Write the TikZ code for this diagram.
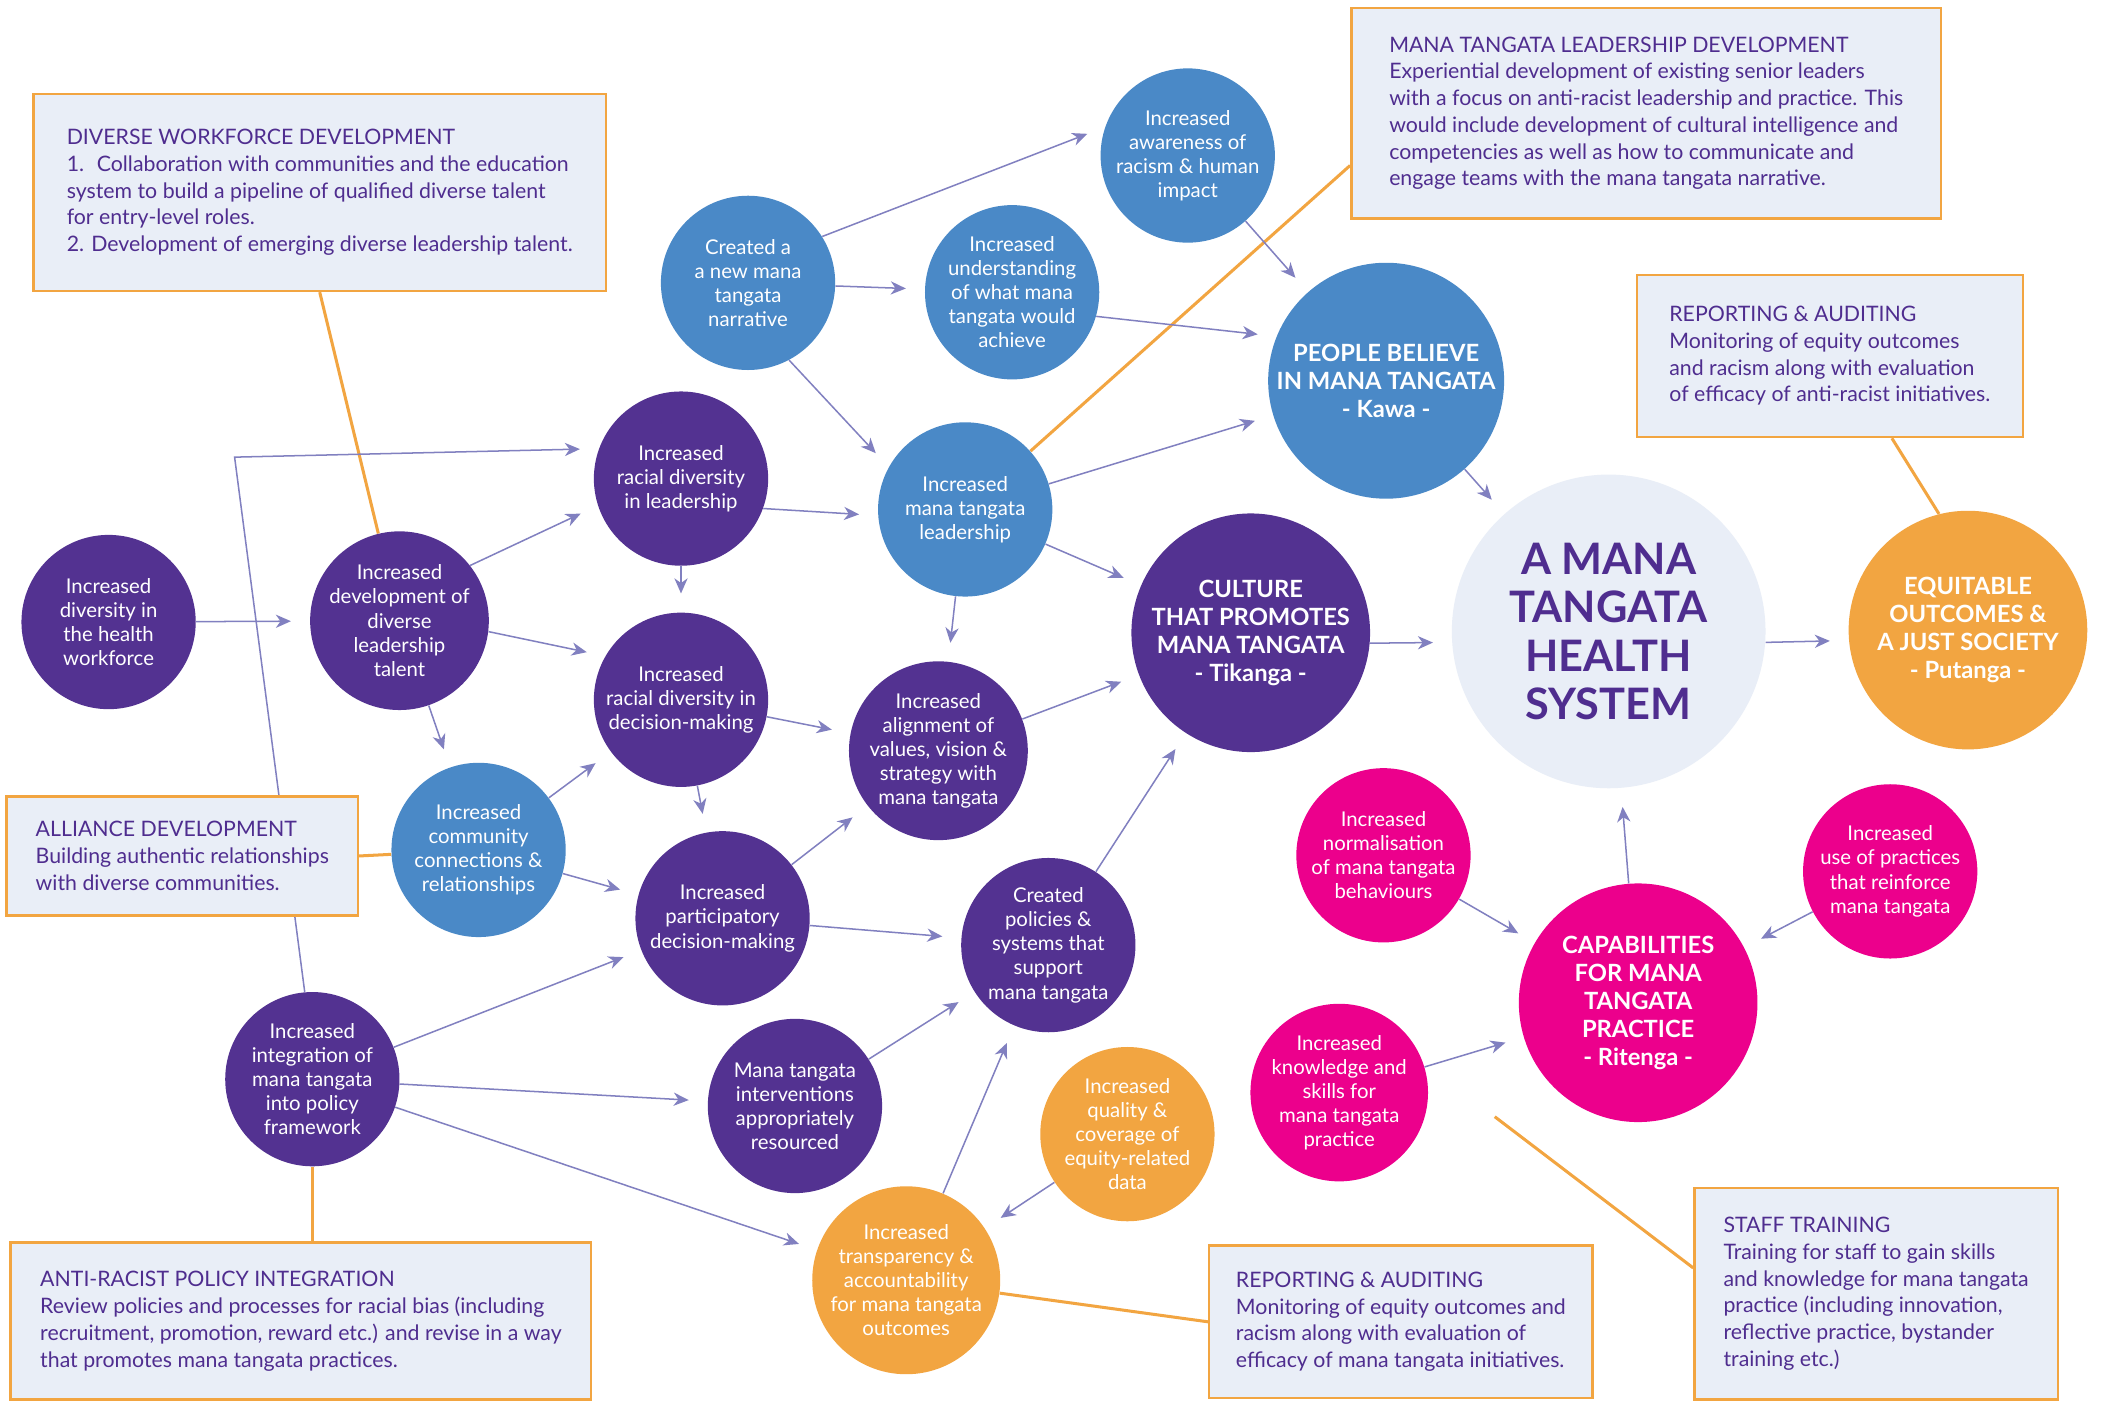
\documentclass[tikz,border=0pt]{standalone}
\usepackage{fontspec}
\setmainfont{Lato}
\usetikzlibrary{arrows.meta,backgrounds}

\definecolor{mtpurple}{HTML}{533291}
\definecolor{mtblue}{HTML}{4A89C7}
\definecolor{mtorange}{HTML}{F2A541}
\definecolor{mtpink}{HTML}{EC008C}
\definecolor{mtpale}{HTML}{E9EEF7}
\definecolor{mtink}{HTML}{4F2D8F}
\definecolor{mtarrow}{HTML}{8180C0}

\tikzset{
  bubble/.style={circle, inner sep=0pt, minimum size=32.5mm, text=white, align=center,
    font=\fontsize{10.8}{12.8}\selectfont},
  bigbubble/.style={circle, inner sep=0pt, minimum size=44.5mm, text=white, align=center,
    font=\fontsize{12.6}{14.9}\selectfont\bfseries},
  infobox/.style={draw=mtorange, line width=1.3pt, fill=mtpale, text=mtink, align=left,
    inner sep=0pt, font=\fontsize{11.3}{14.2}\selectfont},
  flow/.style={draw=mtarrow, line width=0.8pt, -{Stealth[length=8pt,width=7pt,inset=2.5pt]},
    shorten >=10pt},
  tie/.style={draw=mtorange, line width=1.6pt},
}

\begin{document}
\begin{tikzpicture}[x=0.25mm, y=-0.25mm]
  \useasboundingbox (0,0) rectangle (1568,1045);

  % outcome bubbles
  \node[bubble, fill=mtblue] (awr) at (886,116) {Increased\\awareness of\\racism \& human\\impact};
  \node[bubble, fill=mtblue] (nar) at (558,211) {Created a\\a new mana\\tangata\\narrative};
  \node[bubble, fill=mtblue] (und) at (755,218) {Increased\\understanding\\of what mana\\tangata would\\achieve};
  \node[bigbubble, fill=mtblue, minimum size=44mm] (kawa) at (1034,284) {PEOPLE BELIEVE\\IN MANA TANGATA\\- Kawa -};
  \node[bubble, fill=mtblue] (ldr) at (720,380) {Increased\\mana tangata\\leadership};
  \node[bubble, fill=mtpurple] (rdl) at (508,357) {Increased\\racial diversity\\in leadership};
  \node[bubble, fill=mtpurple] (div) at (81,464) {Increased\\diversity in\\the health\\workforce};
  \node[bubble, fill=mtpurple] (dev) at (298,463) {Increased\\development of\\diverse\\leadership\\talent};
  \node[bubble, fill=mtpurple] (rdd) at (508,522) {Increased\\racial diversity in\\decision-making};
  \node[bubble, fill=mtblue] (com) at (357,634) {Increased\\community\\connections \&\\relationships};
  \node[bubble, fill=mtpurple] (aln) at (700,560) {Increased\\alignment of\\values, vision \&\\strategy with\\mana tangata};
  \node[bigbubble, fill=mtpurple] (tik) at (933,472) {CULTURE\\THAT PROMOTES\\MANA TANGATA\\- Tikanga -};
  \node[circle, fill=mtpale, minimum size=58.5mm, inner sep=0pt, text=mtink, align=center,
    font=\fontsize{23}{25.6}\selectfont\bfseries] (hs) at (1200,471) {A MANA\\TANGATA\\HEALTH\\SYSTEM};
  \node[bigbubble, fill=mtorange] (put) at (1468,470) {EQUITABLE\\OUTCOMES \&\\A JUST SOCIETY\\- Putanga -};
  \node[bubble, fill=mtpurple] (pdm) at (539,685) {Increased\\participatory\\decision-making};
  \node[bubble, fill=mtpurple] (pol) at (782,705) {Created\\policies \&\\systems that\\support\\mana tangata};
  \node[bubble, fill=mtpurple] (int) at (233,805) {Increased\\integration of\\mana tangata\\into policy\\framework};
  \node[bubble, fill=mtpurple] (res) at (593,825) {Mana tangata\\interventions\\appropriately\\resourced};
  \node[bubble, fill=mtorange] (trn) at (676,955) {Increased\\transparency \&\\accountability\\for mana tangata\\outcomes};
  \node[bubble, fill=mtorange] (dat) at (841,846) {Increased\\quality \&\\coverage of\\equity-related\\data};
  \node[bubble, fill=mtpink] (norm) at (1032,638) {Increased\\normalisation\\of mana tangata\\behaviours};
  \node[bubble, fill=mtpink] (use) at (1410,650) {Increased\\use of practices\\that reinforce\\mana tangata};
  \node[bigbubble, fill=mtpink] (rit) at (1222,748) {CAPABILITIES\\FOR MANA\\TANGATA\\PRACTICE\\- Ritenga -};
  \node[bubble, fill=mtpink] (know) at (999,815) {Increased\\knowledge and\\skills for\\mana tangata\\practice};

  % initiative boxes
  \node[infobox, minimum width=106.75mm, minimum height=36.75mm] (b1) at (238.5,143.5)
    {DIVERSE WORKFORCE DEVELOPMENT\\1.~ Collaboration with communities and the education\\system to build a pipeline of qualified diverse talent\\for entry-level roles.\\2. Development of emerging diverse leadership talent.};
  \node[infobox, minimum width=110mm, minimum height=39.25mm] (b2) at (1228,84.5)
    {MANA TANGATA LEADERSHIP DEVELOPMENT\\Experiential development of existing senior leaders\\with a focus on anti-racist leadership and practice. This\\would include development of cultural intelligence and\\competencies as well as how to communicate and\\engage teams with the mana tangata narrative.};
  \node[infobox, minimum width=72mm, minimum height=30.25mm] (b3) at (1365,265.5)
    {REPORTING \& AUDITING\\Monitoring of equity outcomes\\and racism along with evaluation\\of efficacy of anti-racist initiatives.};
  \node[infobox, minimum width=65.5mm, minimum height=22.25mm] (b4) at (136,638.5)
    {ALLIANCE DEVELOPMENT\\Building authentic relationships\\with diverse communities.};
  \node[infobox, minimum width=108.25mm, minimum height=29.25mm] (b5) at (224.5,985.5)
    {ANTI-RACIST POLICY INTEGRATION\\Review policies and processes for racial bias (including\\recruitment, promotion, reward etc.) and revise in a way\\that promotes mana tangata practices.};
  \node[infobox, minimum width=71.5mm, minimum height=28.5mm] (b6) at (1045,986)
    {REPORTING \& AUDITING\\Monitoring of equity outcomes and\\racism along with evaluation of\\efficacy of mana tangata initiatives.};
  \node[infobox, minimum width=67.75mm, minimum height=39.5mm] (b7) at (1399.5,965)
    {STAFF TRAINING\\Training for staff to gain skills\\and knowledge for mana tangata\\practice (including innovation,\\reflective practice, bystander\\training etc.)};

  \coordinate (bend) at (175,341);
  \coordinate (trainend) at (1115,833);

  \begin{scope}[on background layer]
    \fill[white] (0,0) rectangle (1568,1045);
    % box ties
    \draw[tie] (b1.south) -- (dev);
    \draw[tie] (b2.190) -- (ldr);
    \draw[tie] (b3.-53) -- (put.104);
    \draw[tie] (b4.east) -- (com);
    \draw[tie] (int.south) -- (int.south |- b5.north);
    \draw[tie] (b6.west) -- (trn);
    \draw[tie] (b7.172) -- (trainend);
    % causal links
    \draw[flow] (nar.32) -- (awr.161);
    \draw[flow] (nar) -- (und);
    \draw[flow] (nar.-62) -- (ldr.151);
    \draw[flow] (awr) -- (kawa);
    \draw[flow] (und.-16) -- (kawa.158);
    \draw[flow] (ldr) -- (kawa);
    \draw[flow] (ldr) -- (tik);
    \draw[flow] (ldr) -- (aln);
    \draw[flow] (kawa) -- (hs);
    \draw[flow] (tik.-5) -- (hs.184);
    \draw[flow] (hs.-4) -- (put.185);
    \draw[flow] (rdl.-20) -- (ldr.184);
    \draw[flow] (rdl) -- (rdd);
    \draw[flow] (div) -- (dev);
    \draw[flow] (dev.38) -- (rdl.198);
    \draw[flow] (dev.-7) -- (rdd.150);
    \draw[flow] (dev) -- (com);
    \draw[flow] (int.95) -- (bend) -- (rdl.160);
    \draw[flow] (rdd) -- (aln);
    \draw[flow] (rdd) -- (pdm);
    \draw[flow] (com) -- (rdd);
    \draw[flow] (com) -- (pdm);
    \draw[flow] (aln) -- (tik);
    \draw[flow] (pdm) -- (aln);
    \draw[flow] (pdm) -- (pol);
    \draw[flow] (pol) -- (tik);
    \draw[flow] (int) -- (pdm);
    \draw[flow] (int) -- (res);
    \draw[flow] (int) -- (trn);
    \draw[flow] (res) -- (pol);
    \draw[flow] (trn) -- (pol);
    \draw[flow] (dat) -- (trn);
    \draw[flow] (norm) -- (rit);
    \draw[flow] (use) -- (rit);
    \draw[flow] (know) -- (rit);
    \draw[flow] (rit) -- (hs);
  \end{scope}
\end{tikzpicture}
\end{document}
